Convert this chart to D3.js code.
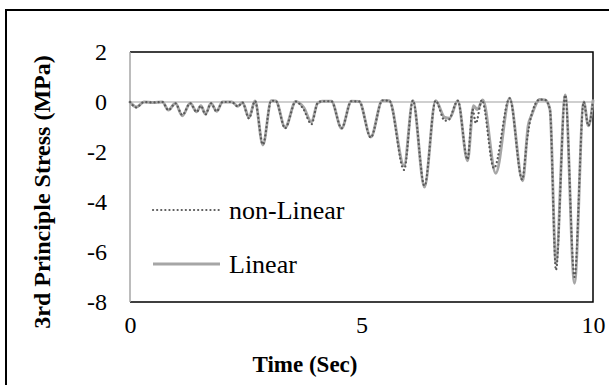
<!DOCTYPE html>
<html>
<head>
<meta charset="utf-8">
<script src="https://cdn.jsdelivr.net/npm/d3@7"></script>
<style>
  html, body { margin: 0; padding: 0; background: #fff; }
  svg { display: block; }
  text { font-family: "Liberation Serif", "Times New Roman", serif; fill: #000; }
</style>
</head>
<body>
<svg id="chart" width="609" height="385"></svg>
<script>
// ---- data ----
const linearTime = [0, 0.14, 0.3, 0.5, 0.7, 0.83, 0.98, 1.13, 1.3, 1.44, 1.53, 1.63, 1.75, 1.87, 2.0, 2.2, 2.33, 2.43, 2.57, 2.7, 2.87, 3.05, 3.15, 3.35, 3.58, 3.75, 3.92, 4.05, 4.15, 4.35, 4.57, 4.78, 4.95, 5.2, 5.45, 5.6, 5.92, 6.11, 6.36, 6.6, 6.8, 6.9, 7.08, 7.29, 7.42, 7.5, 7.62, 7.9, 8.2, 8.48, 8.6, 8.68, 8.85, 8.97, 9.07, 9.2, 9.4, 9.6, 9.8, 9.9, 10];
const linearStress = [0, -0.2, 0, -0.02, 0, -0.32, -0.05, -0.55, -0.05, -0.39, -0.15, -0.48, -0.05, -0.37, 0, 0, -0.17, -0.02, -0.62, 0.04, -1.72, 0.05, 0.04, -1.02, 0.02, -0.22, -0.8, -0.05, 0.03, 0.03, -1.05, 0.03, 0.02, -1.4, 0.06, 0.05, -2.55, 0.06, -3.4, 0.05, -0.62, -0.65, 0.05, -2.35, -0.15, -0.3, 0.08, -2.85, 0.15, -3.15, -0.95, -0.5, 0.1, 0.08, -0.3, -6.45, 0.28, -7.25, 0.0, -0.95, 0.05];

const nonLinearTime = [0, 0.14, 0.3, 0.5, 0.7, 0.83, 0.98, 1.13, 1.3, 1.44, 1.53, 1.63, 1.75, 1.87, 2.0, 2.2, 2.33, 2.43, 2.57, 2.7, 2.87, 3.05, 3.15, 3.35, 3.58, 3.75, 3.92, 4.05, 4.15, 4.35, 4.57, 4.78, 4.95, 5.2, 5.45, 5.6, 5.92, 6.11, 6.36, 6.6, 6.8, 6.88, 7.08, 7.29, 7.4, 7.47, 7.6, 7.86, 8.2, 8.47, 8.58, 8.66, 8.85, 8.97, 9.07, 9.2, 9.4, 9.6, 9.8, 9.9, 10];
const nonLinearStress = [0, -0.22, 0, -0.02, 0, -0.33, -0.05, -0.52, -0.05, -0.4, -0.15, -0.5, -0.05, -0.38, 0, 0, -0.18, -0.02, -0.66, 0.04, -1.7, 0.05, 0.04, -1.05, 0.02, -0.3, -0.89, -0.05, 0.03, 0.03, -1.05, 0.03, 0.02, -1.42, 0.06, 0.05, -2.72, 0.06, -3.35, 0.05, -0.75, -0.72, 0.05, -2.3, -0.3, -0.85, 0.08, -2.65, 0.15, -3.1, -1.45, -0.6, 0.1, 0.08, -0.3, -6.72, 0.28, -7.0, 0.0, -0.95, 0.05];

const xTicks = [0, 5, 10];
const yTicks = [2, 0, -2, -4, -6, -8];
const seriesNames = ["non-Linear", "Linear"];
const xTitle = "Time (Sec)";
const yTitle = "3rd Principle Stress (MPa)";

// ---- layout ----
const svg = d3.select("#chart");
const plot = { left: 130, right: 593, top: 52, bottom: 302 };

const x = d3.scaleLinear().domain([0, 10]).range([plot.left, plot.right]);
const y = d3.scaleLinear().domain([-8, 2]).range([plot.bottom, plot.top]);

// outer chart border (extends past the picture on right and bottom)
svg.append("rect")
  .attr("x", 6).attr("y", 10).attr("width", 640).attr("height", 420)
  .attr("fill", "none").attr("stroke", "#000").attr("stroke-width", 2);

// plot area border: black top / right / bottom
svg.append("path")
  .attr("d", `M${plot.left},${plot.top}H${plot.right}V${plot.bottom}H${plot.left}`)
  .attr("fill", "none").attr("stroke", "#000").attr("stroke-width", 1.5);

// vertical axis line (gray)
svg.append("line")
  .attr("x1", plot.left).attr("x2", plot.left)
  .attr("y1", plot.top).attr("y2", plot.bottom)
  .attr("stroke", "#a6a6a6").attr("stroke-width", 1.5);

// horizontal axis line at y = 0 (gray)
svg.append("line")
  .attr("x1", plot.left).attr("x2", plot.right)
  .attr("y1", y(0)).attr("y2", y(0))
  .attr("stroke", "#bfbfbf").attr("stroke-width", 1.5);

// y axis labels
const yAxis = d3.axisLeft(y).tickValues(yTicks).tickSize(0).tickPadding(23)
  .tickFormat(d3.format("d"));
const gy = svg.append("g").attr("transform", `translate(${plot.left},0)`).call(yAxis);
gy.select(".domain").remove();
gy.selectAll("text")
  .style("font-family", '"Liberation Serif", "Times New Roman", serif')
  .style("font-size", "24px").attr("fill", "#000")
  .text(d => d < 0 ? "-" + Math.abs(d) : d);

// x axis labels
const xAxis = d3.axisBottom(x).tickValues(xTicks).tickSize(0).tickPadding(14)
  .tickFormat(d3.format("d"));
const gx = svg.append("g").attr("transform", `translate(0,${plot.bottom})`).call(xAxis);
gx.select(".domain").remove();
gx.selectAll("text")
  .style("font-family", '"Liberation Serif", "Times New Roman", serif')
  .style("font-size", "24px").attr("fill", "#000");

// axis titles
svg.append("text")
  .attr("x", 305).attr("y", 372)
  .attr("text-anchor", "middle")
  .style("font-size", "23px").style("font-weight", "bold")
  .text(xTitle);

svg.append("text")
  .attr("transform", "translate(50,192) rotate(-90)")
  .attr("text-anchor", "middle")
  .style("font-size", "24px").style("font-weight", "bold")
  .text(yTitle);

// series
const line = d3.line()
  .x(d => x(d[0])).y(d => y(d[1]))
  .curve(d3.curveMonotoneX);

const linearData = linearTime.map((t, i) => [t, linearStress[i]]);
const nonLinearData = nonLinearTime.map((t, i) => [t, nonLinearStress[i]]);

const linearStyle = { stroke: "#a6a6a6", width: 2.9, dash: null, cap: "round" };
const dottedStyle = { stroke: "#595959", width: 2.2, dash: "0.1,4", cap: "round" };

function styled(sel, s) {
  sel.attr("fill", "none")
    .attr("stroke", s.stroke)
    .attr("stroke-width", s.width)
    .attr("stroke-linecap", s.cap)
    .attr("stroke-linejoin", "round");
  if (s.dash) sel.attr("stroke-dasharray", s.dash);
  return sel;
}

styled(svg.append("path").datum(linearData).attr("d", line), linearStyle);
styled(svg.append("path").datum(nonLinearData).attr("d", line), dottedStyle);

// legend
const legend = [
  { name: seriesNames[0], style: dottedStyle, y: 210 },
  { name: seriesNames[1], style: linearStyle, y: 264 }
];
legend.forEach(l => {
  styled(svg.append("line")
    .attr("x1", 153).attr("x2", 220)
    .attr("y1", l.y).attr("y2", l.y), l.style)
    .attr("stroke-linecap", l.style.dash ? "round" : "butt");
  svg.append("text")
    .attr("x", 229).attr("y", l.y + 8.5)
    .style("font-size", "26px")
    .text(l.name);
});
</script>
</body>
</html>
